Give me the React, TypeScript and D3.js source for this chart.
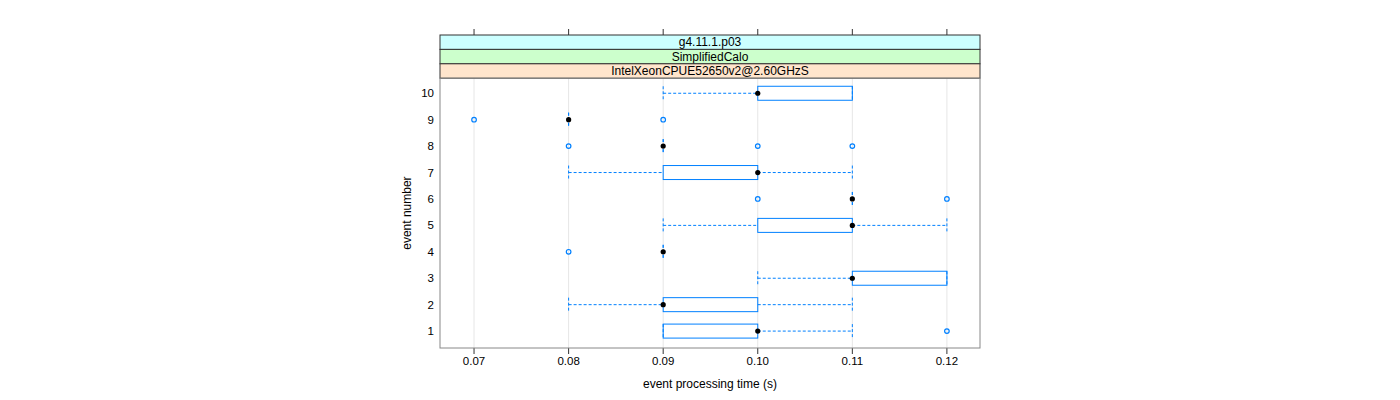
import * as d3 from "d3"

const stripLabels = ["g4.11.1.p03", "SimplifiedCalo", "IntelXeonCPUE52650v2@2.60GHzS"]
const stripColors = ["#ccffff", "#ccffcc", "#ffe5cc"]

const events = [1, 2, 3, 4, 5, 6, 7, 8, 9, 10]
// [lowerWhisker, q1, median, q3, upperWhisker]
const stats: number[][] = [
    [0.09, 0.09, 0.10, 0.10, 0.11],
    [0.08, 0.09, 0.09, 0.10, 0.11],
    [0.10, 0.11, 0.11, 0.12, 0.12],
    [0.09, 0.09, 0.09, 0.09, 0.09],
    [0.09, 0.10, 0.11, 0.11, 0.12],
    [0.11, 0.11, 0.11, 0.11, 0.11],
    [0.08, 0.09, 0.10, 0.10, 0.11],
    [0.09, 0.09, 0.09, 0.09, 0.09],
    [0.08, 0.08, 0.08, 0.08, 0.08],
    [0.09, 0.10, 0.10, 0.11, 0.11],
]
const outliers: number[][] = [
    [0.12],
    [],
    [],
    [0.08],
    [],
    [0.10, 0.12],
    [],
    [0.08, 0.10, 0.11],
    [0.07, 0.09],
    [],
]
const xTicks = [0.07, 0.08, 0.09, 0.10, 0.11, 0.12]

export default function App() {
    const width = 1400
    const height = 400
    const left = 440, right = 980
    const stripTop = 35, stripH = 14.4
    const top = stripTop + stripH * 3
    const bottom = 348
    const font = "Liberation Sans, Arial, Helvetica, sans-serif"
    const blue = "#0080ff"

    const x = d3.scaleLinear().domain([0.0664, 0.1235]).range([left, right])
    const y = d3.scaleLinear().domain([0.36, 10.57]).range([bottom, top])
    const bh = 7

    return (
        <svg width={width} height={height} style={{ position: "absolute", left: 0, top: 0 }} fontFamily={font}>
            <rect x={0} y={0} width={width} height={height} fill="#fff" />
            {xTicks.map(t => (
                <line key={"g" + t} x1={x(t)} x2={x(t)} y1={top} y2={bottom} stroke="#e6e6e6" />
            ))}
            {/* top ticks */}
            {xTicks.map(t => (
                <line key={"tt" + t} x1={x(t)} x2={x(t)} y1={29} y2={stripTop} stroke="#333" />
            ))}
            {/* bottom ticks + labels */}
            {xTicks.map(t => (
                <g key={"bt" + t}>
                    <line x1={x(t)} x2={x(t)} y1={bottom} y2={354} stroke="#333" />
                    <text x={x(t)} y={365} fontSize={11.5} textAnchor="middle">{d3.format(".2f")(t)}</text>
                </g>
            ))}
            {events.map(e => (
                <text key={"yl" + e} x={434} y={y(e) + 4} fontSize={11.5} textAnchor="end">{e}</text>
            ))}
            <text x={710} y={388} fontSize={12} textAnchor="middle">event processing time (s)</text>
            <text transform={`translate(411,${(top + bottom) / 2}) rotate(-90)`} fontSize={12} textAnchor="middle">event number</text>

            {/* boxes */}
            {events.map((e, i) => {
                const [lw, q1, med, q3, uw] = stats[i]
                const cy = y(e)
                return (
                    <g key={"b" + e}>
                        {lw < q1 && <line x1={x(lw)} x2={x(q1)} y1={cy} y2={cy} stroke={blue} strokeDasharray="3,2" />}
                        {uw > q3 && <line x1={x(q3)} x2={x(uw)} y1={cy} y2={cy} stroke={blue} strokeDasharray="3,2" />}
                        <line x1={x(lw)} x2={x(lw)} y1={cy - bh} y2={cy + bh} stroke={blue} strokeDasharray="3,2" />
                        <line x1={x(uw)} x2={x(uw)} y1={cy - bh} y2={cy + bh} stroke={blue} strokeDasharray="3,2" />
                        <rect x={x(q1)} y={cy - bh} width={Math.max(0, x(q3) - x(q1))} height={bh * 2} fill="none" stroke={blue} />
                        {outliers[i].map(o => (
                            <circle key={o} cx={x(o)} cy={cy} r={2.3} fill="none" stroke={blue} strokeWidth={1.2} />
                        ))}
                        <circle cx={x(med)} cy={cy} r={2.6} fill="#000" />
                    </g>
                )
            })}

            {/* strips */}
            {stripLabels.map((s, i) => (
                <g key={s}>
                    <rect x={left} y={stripTop + stripH * i} width={right - left} height={stripH} fill={stripColors[i]} stroke="#333" />
                    <text x={(left + right) / 2} y={stripTop + stripH * i + 11.2} fontSize={12} textAnchor="middle">{s}</text>
                </g>
            ))}
            <rect x={left} y={top} width={right - left} height={bottom - top} fill="none" stroke="#888" />
        </svg>
    )
}
